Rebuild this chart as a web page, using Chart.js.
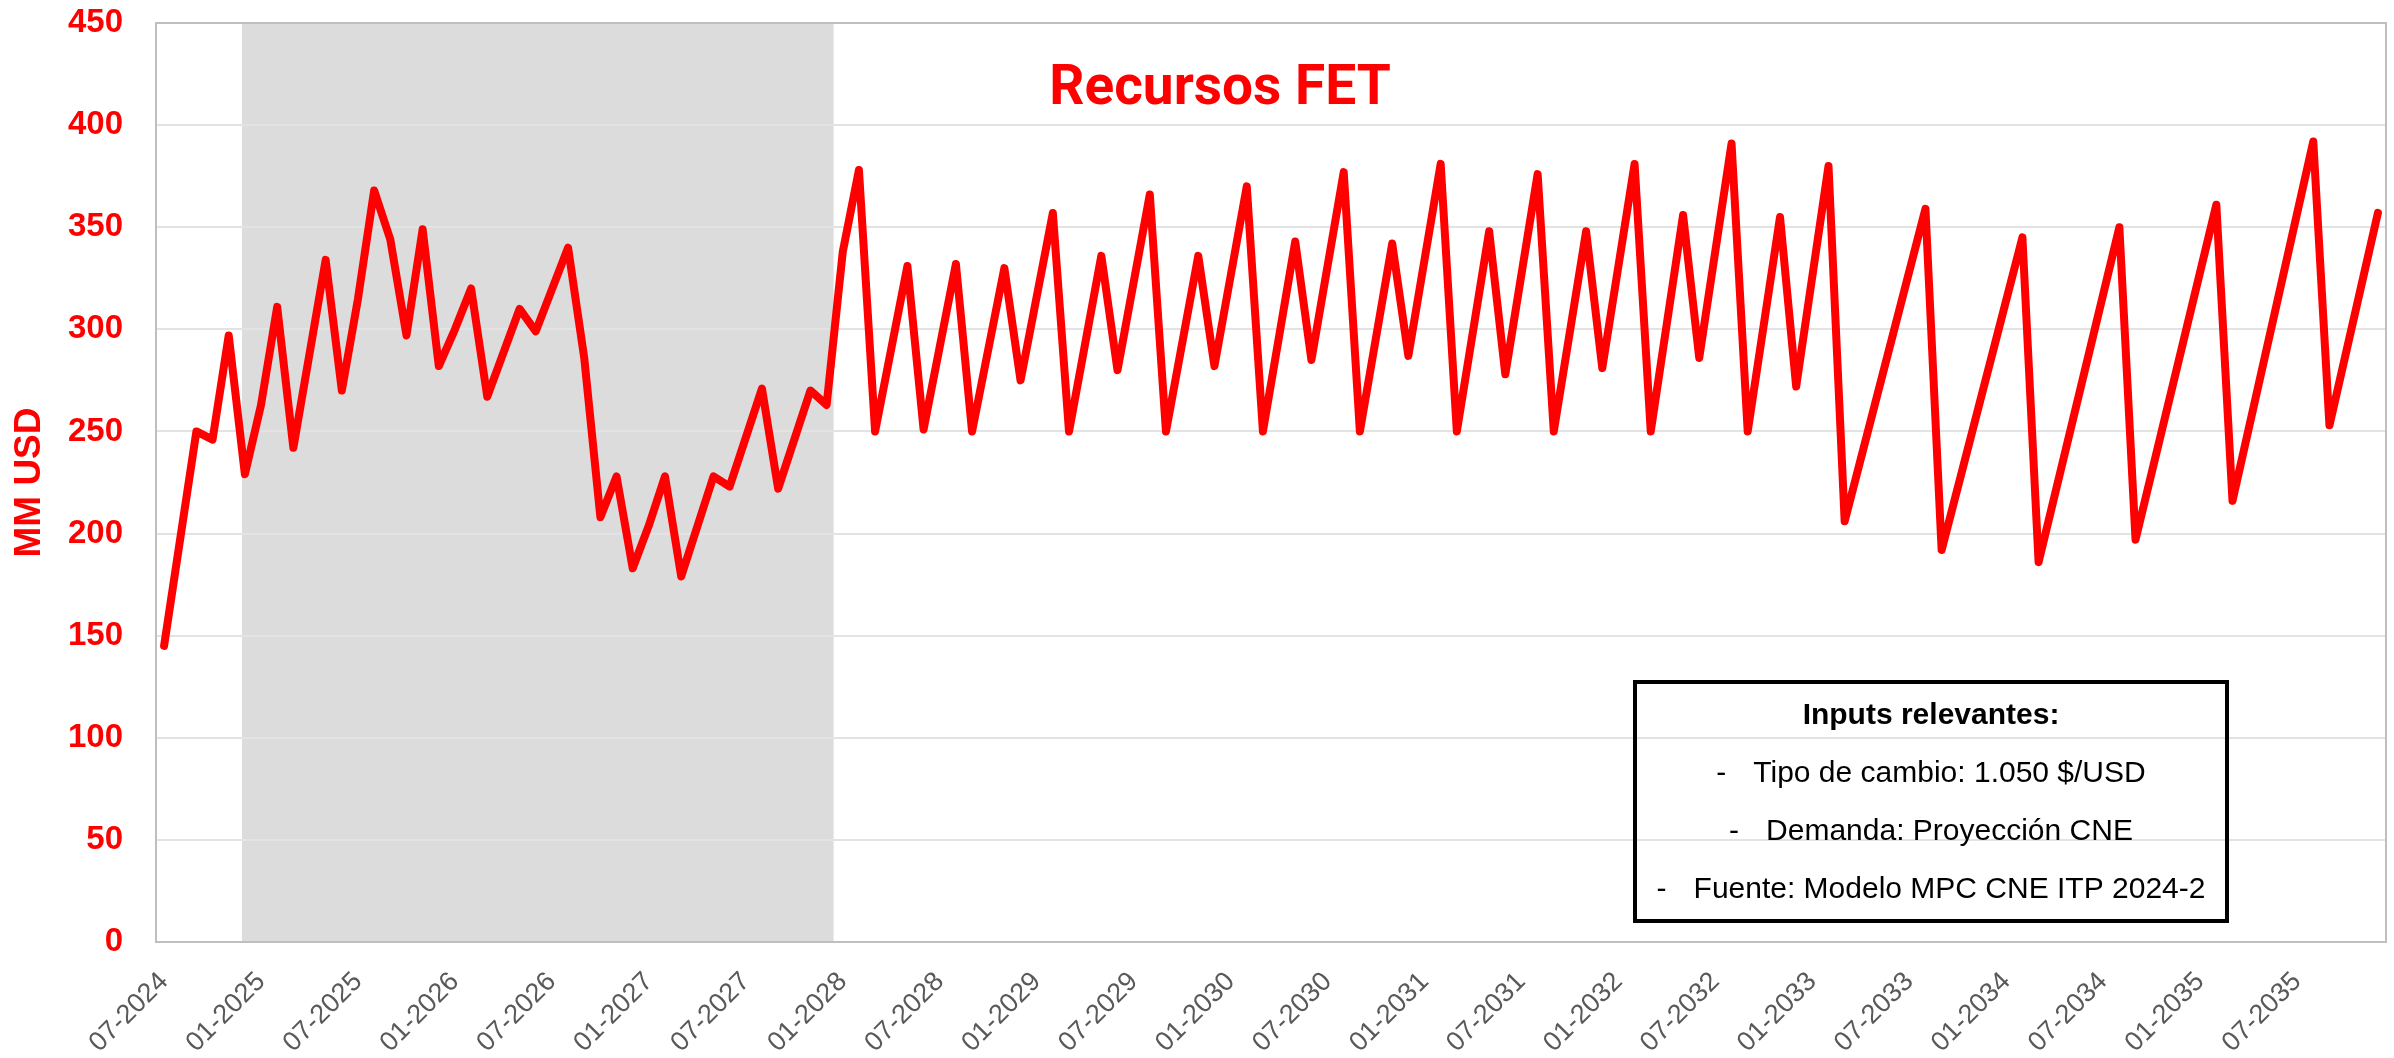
<!DOCTYPE html>
<html>
<head>
<meta charset="utf-8">
<script src="https://cdn.jsdelivr.net/npm/chart.js@4.4.1/dist/chart.umd.min.js"></script>
<style>
  html, body { margin: 0; padding: 0; background: #ffffff; }
  #wrap { width: 2394px; height: 1058px; }
</style>
</head>
<body>
<div id="wrap"><canvas id="chart" width="2394" height="1058"></canvas></div>
<script>
// months where the series has a value (the line is drawn straight across the other months)
const pointMonths = [
  '07-2024', '09-2024', '10-2024', '11-2024', '12-2024', '01-2025', '02-2025', '03-2025',
  '05-2025', '06-2025', '07-2025', '08-2025', '09-2025', '10-2025', '11-2025', '12-2025',
  '01-2026', '02-2026', '03-2026', '05-2026', '06-2026', '08-2026', '09-2026', '10-2026',
  '11-2026', '12-2026', '01-2027', '02-2027', '03-2027', '05-2027', '06-2027', '08-2027',
  '09-2027', '11-2027', '12-2027', '01-2028', '02-2028', '03-2028', '05-2028', '06-2028',
  '08-2028', '09-2028', '11-2028', '12-2028', '02-2029', '03-2029', '05-2029', '06-2029',
  '08-2029', '09-2029', '11-2029', '12-2029', '02-2030', '03-2030', '05-2030', '06-2030',
  '08-2030', '09-2030', '11-2030', '12-2030', '02-2031', '03-2031', '05-2031', '06-2031',
  '08-2031', '09-2031', '11-2031', '12-2031', '02-2032', '03-2032', '05-2032', '06-2032',
  '08-2032', '09-2032', '11-2032', '12-2032', '02-2033', '03-2033', '08-2033', '09-2033',
  '02-2034', '03-2034', '08-2034', '09-2034', '02-2035', '03-2035', '08-2035', '09-2035',
  '12-2035'
];
const pointValues = [
  145, 250, 246, 297, 229, 263, 311, 242,
  334, 270, 315, 368, 344, 297, 349, 282,
  300, 320, 267, 310, 299, 340, 286, 208,
  228, 183, 204, 228, 179, 228, 223, 271,
  222, 270, 263, 338, 378, 250, 331, 251,
  332, 250, 330, 275, 357, 250, 336, 280,
  366, 250, 336, 282, 370, 250, 343, 285,
  377, 250, 342, 287, 381, 250, 348, 278,
  376, 250, 348, 281, 381, 250, 356, 286,
  391, 250, 355, 272, 380, 206, 359, 192,
  345, 186, 350, 197, 361, 216, 392, 253,
  357
];

const firstYear = 2024, firstMonth = 7, lastYear = 2035, lastMonth = 12;
const labelEvery = 6;
const yTicks = [0, 50, 100, 150, 200, 250, 300, 350, 400, 450];

const chartTitle = 'Recursos FET';
const yTitle = 'MM USD';
const boxHeader = 'Inputs relevantes:';
const boxLines = [
  'Tipo de cambio: 1.050 $/USD',
  'Demanda: Proyección CNE',
  'Fuente: Modelo MPC CNE ITP 2024-2'
];

// monthly category axis
const months = [];
for (let y = firstYear, m = firstMonth; y < lastYear || (y === lastYear && m <= lastMonth); ) {
  months.push(String(m).padStart(2, '0') + '-' + y);
  if (++m > 12) { m = 1; y++; }
}
const series = months.map(mo => {
  const k = pointMonths.indexOf(mo);
  return k < 0 ? null : pointValues[k];
});

const RED = '#ff0000';

// grey shaded period, behind the grid
const shade = {
  id: 'shade',
  beforeDraw(chart) {
    const { ctx, chartArea: a, scales: { x } } = chart;
    const x0 = x.getPixelForValue(4.82);
    const x1 = x.getPixelForValue(41.43);
    ctx.save();
    ctx.fillStyle = '#dcdcdc';
    ctx.fillRect(x0, a.top, x1 - x0, a.bottom - a.top);
    ctx.restore();
  }
};

const frame = {
  id: 'frame',
  beforeDatasetsDraw(chart) {
    const { ctx, chartArea: a } = chart;
    ctx.save();
    ctx.strokeStyle = '#bfbfbf';
    ctx.lineWidth = 2;
    ctx.strokeRect(a.left, a.top, a.right - a.left, a.bottom - a.top);
    ctx.restore();
  }
};

const overlay = {
  id: 'overlay',
  afterDraw(chart) {
    const ctx = chart.ctx;
    ctx.save();
    // title textbox
    ctx.fillStyle = RED;
    ctx.font = 'bold 55px Roboto';
    ctx.textAlign = 'center';
    ctx.textBaseline = 'alphabetic';
    ctx.fillText(chartTitle, 1220, 104);

    // inputs box
    const bx = 1635, by = 682, bw = 592, bh = 239;
    ctx.strokeStyle = '#000000';
    ctx.lineWidth = 4;
    ctx.strokeRect(bx, by, bw, bh);
    const cx = bx + bw / 2;
    ctx.fillStyle = '#000000';
    ctx.textBaseline = 'middle';
    ctx.font = 'bold 30px "Liberation Sans"';
    ctx.fillText(boxHeader, cx, 716);
    ctx.font = '30px "Liberation Sans"';
    ctx.textAlign = 'left';
    boxLines.forEach((t, i) => {
      const dw = ctx.measureText('-').width;
      const tw = ctx.measureText(t).width;
      const gap = 27;
      const sx = cx - (dw + gap + tw) / 2;
      const yy = 774 + i * 58;
      ctx.fillText('-', sx, yy);
      ctx.fillText(t, sx + dw + gap, yy);
    });
    ctx.restore();
  }
};

new Chart(document.getElementById('chart'), {
  type: 'line',
  data: {
    labels: months,
    datasets: [{
      data: series,
      borderColor: RED,
      borderWidth: 8,
      pointRadius: 0,
      spanGaps: true,
      tension: 0,
      fill: false,
      borderJoinStyle: 'round',
      borderCapStyle: 'round'
    }]
  },
  options: {
    responsive: false,
    animation: false,
    devicePixelRatio: 1,
    layout: { padding: { top: 23, right: 8, left: 0, bottom: 0 } },
    plugins: { legend: { display: false }, tooltip: { enabled: false } },
    scales: {
      x: {
        type: 'category',
        offset: true,
        grid: { display: false, drawTicks: false },
        border: { display: true, color: '#bfbfbf', width: 2 },
        ticks: {
          autoSkip: false,
          minRotation: 45,
          maxRotation: 45,
          padding: 24,
          color: '#595959',
          font: { family: '"Liberation Sans"', size: 27 },
          callback: (v, i) => (i % labelEvery === 0 ? months[i] : null)
        },
        afterFit: s => {
          s.height = 116;
          s.paddingLeft = 0;
          s.paddingRight = 0;
        }
      },
      y: {
        min: 0,
        max: 450,
        afterBuildTicks: s => { s.ticks = yTicks.map(v => ({ value: v })); },
        grid: { color: '#e3e3e3', lineWidth: 2, drawTicks: false },
        border: { display: true, color: '#bfbfbf', width: 2 },
        ticks: {
          padding: 33,
          color: RED,
          font: { family: '"Liberation Sans"', size: 33, weight: 'bold' }
        },
        title: {
          display: true,
          text: yTitle,
          color: RED,
          padding: { top: 8, bottom: 0 },
          font: { family: '"Liberation Sans"', size: 37, weight: 'bold' }
        },
        afterFit: s => {
          s.width = 156;
          s.paddingTop = 0;
          s.paddingBottom = 0;
        }
      }
    }
  },
  plugins: [shade, frame, overlay]
});
</script>
</body>
</html>
